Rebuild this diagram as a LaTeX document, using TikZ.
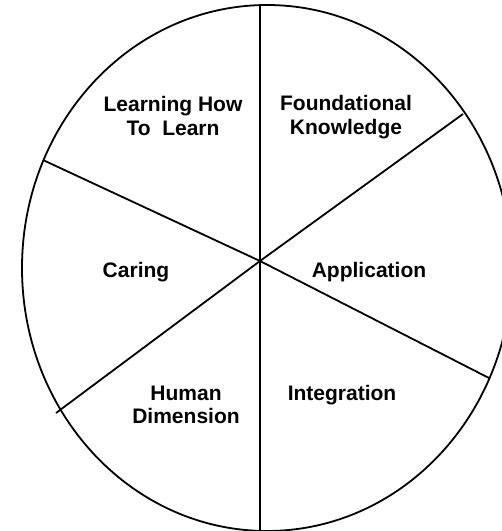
\documentclass[tikz,border=0pt]{standalone}
\usepackage{fontspec}
\setmainfont{Liberation Sans}
\tikzset{sector/.style={font=\bfseries\fontsize{10.5}{11.7}\selectfont, align=center, inner sep=0pt},
         rim/.style={line width=0.9pt}}

\begin{document}
\begin{tikzpicture}[x=0.5pt, y=-0.5pt]
  \useasboundingbox (0,0) rectangle (502,531);
  \draw[rim] (267,268) ellipse [x radius=122.5pt, y radius=131.5pt];
  \coordinate (hub)    at (260,261);
  \coordinate (top)    at (260,6);
  \coordinate (bottom) at (260,531);
  \coordinate (ne)     at (463,114);
  \coordinate (se)     at (489,378);
  \coordinate (nw)     at (43,160);
  \coordinate (sw)     at (56,413);
  \node[sector] (learn) at (173,116) {Learning How\\To~~Learn};
  \node[sector] (found) at (346,117) {Foundational\\Knowledge};
  \node[sector] (caring) at (136,272) {Caring};
  \node[sector] (appl)   at (369,272) {Application};
  \node[sector] (human)  at (186,405) {Human\\Dimension};
  \node[sector] (integ)  at (342,395) {Integration};
  \draw[rim] (hub) -- (top);
  \draw[rim] (hub) -- (bottom);
  \draw[rim] (hub) -- (ne);
  \draw[rim] (hub) -- (se);
  \draw[rim] (hub) -- (nw);
  \draw[rim] (hub) -- (sw);
\end{tikzpicture}
\end{document}
